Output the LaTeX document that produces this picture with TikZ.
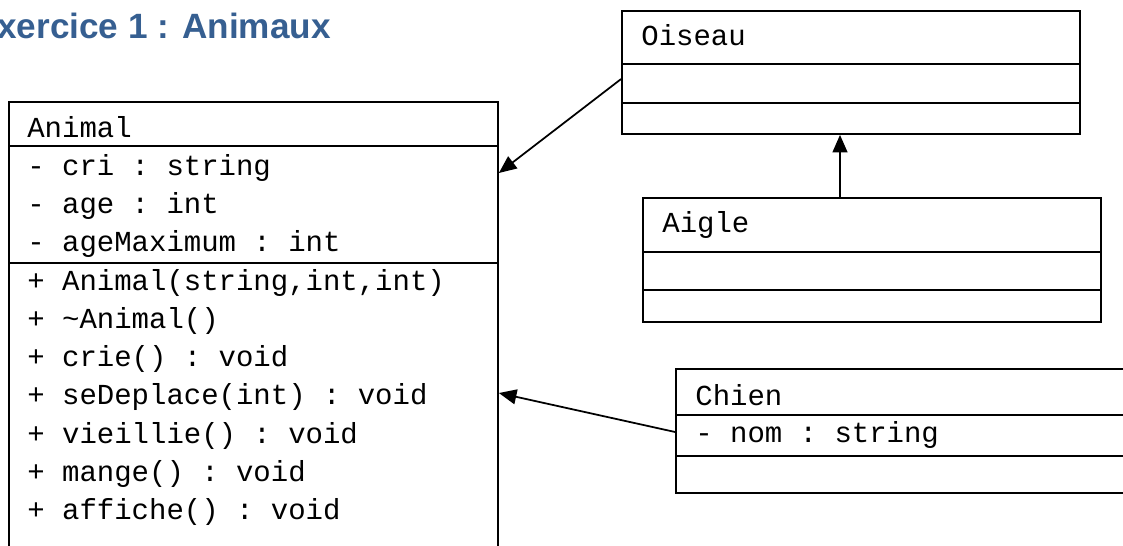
\documentclass[tikz,border=0pt]{standalone}
\usepackage{fontspec}
\setmonofont{Liberation Mono}
\newfontfamily\titlefont{Liberation Sans}
\usetikzlibrary{arrows.meta,fit}
\definecolor{titleblue}{HTML}{365F91}

\begin{document}
\begin{tikzpicture}[x=0.02cm, y=-0.02cm,
    classbox/.style={draw, line width=1pt, inner sep=0pt},
    sep/.style={line width=1pt},
    member/.style={anchor=base west, inner sep=0pt, font=\fontsize{16.5}{20}\selectfont\ttfamily},
    heritage/.style={-{Triangle[length=10pt, width=8.5pt]}, line width=1pt}]
  \useasboundingbox (0,0) rectangle (1123,545);
  \clip (0,0) rectangle (1123,545);

  % title, cut at the left edge
  \node[anchor=base east, inner sep=0pt, text=titleblue,
        font=\titlefont\bfseries\fontsize{20}{24}\selectfont] (title) at (331,38) {Exercice 1 : Animaux};

  % class boxes
  \node[classbox, fit={(9,102) (498,570)}] (animal) {};
  \node[classbox, fit={(622,11) (1080,134)}] (oiseau) {};
  \node[classbox, fit={(643,198) (1101,322)}] (aigle) {};
  \node[classbox, fit={(676,369) (1140,493)}] (chien) {};

  % compartments
  \foreach \b/\y in {animal/146, animal/263, oiseau/64, oiseau/103,
                     aigle/252, aigle/290, chien/415, chien/456} {
    \draw[sep] (\b.west |- 0,\y) -- (\b.east |- 0,\y);
  }

  % Animal
  \node[member] (animal-name) at (27,137) {Animal};
  \foreach \txt [count=\i] in {- cri : string, - age : int, - ageMaximum : int} {
    \node[member] (animal-attr\i) at (27,137+\i*38.3) {\txt};
  }
  \foreach \txt [count=\i] in {{+ Animal(string,int,int)}, + \textasciitilde Animal(),
      + crie() : void, + seDeplace(int) : void, + vieillie() : void,
      + mange() : void, + affiche() : void} {
    \node[member] (animal-op\i) at (27,251.7+\i*38.3) {\txt};
  }

  % other classes
  \node[member] (oiseau-name) at (641,45) {Oiseau};
  \node[member] (aigle-name) at (662,232) {Aigle};
  \node[member] (chien-name) at (695,405) {Chien};
  \node[member] (chien-attr1) at (695,442) {- nom : string};

  % inheritance
  \draw[heritage] (oiseau.west |- 0,79) -- (animal.east |- 0,173);
  \draw[heritage] (chien.west |- 0,432) -- (animal.east |- 0,393);
  \draw[heritage] (840,0 |- aigle.north) -- (840,0 |- oiseau.south);
\end{tikzpicture}
\end{document}
